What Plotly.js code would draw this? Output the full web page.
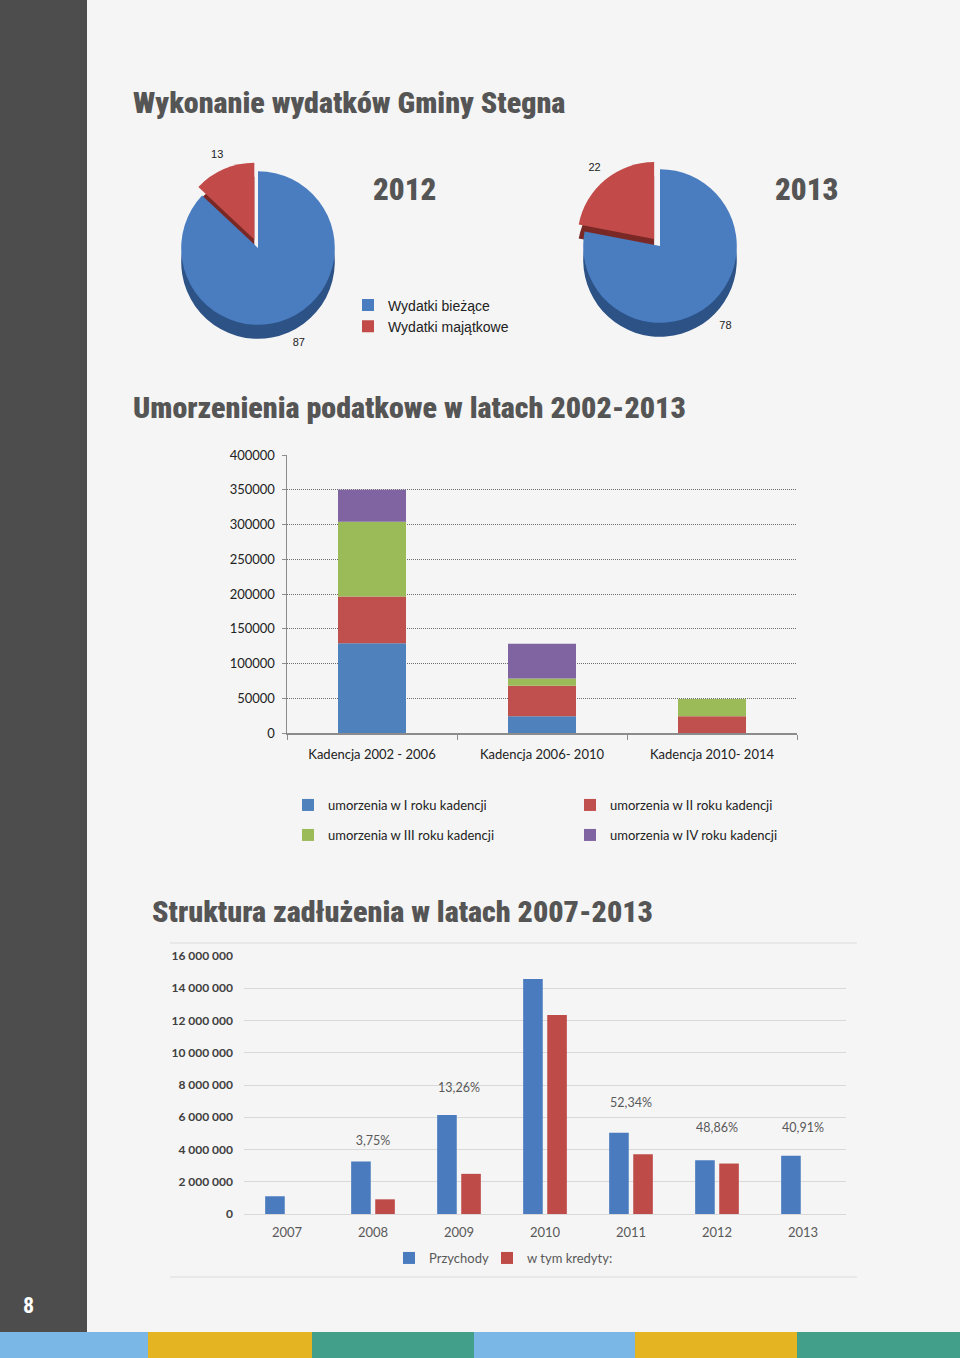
<!DOCTYPE html>
<html><head><meta charset="utf-8">
<script src="https://cdn.plot.ly/plotly-3.0.1.min.js"></script>
<style>html,body{margin:0;padding:0;background:#f5f5f5}#chart{width:960px;height:1358px}</style>
</head><body><div id="chart"></div>
<script>
// ---------- data ----------
const pieLabels = ['Wydatki bieżące', 'Wydatki majątkowe'];
const pie2012 = [87, 13];
const pie2013 = [78, 22];

const kadencje = ['Kadencja 2002 - 2006', 'Kadencja 2006- 2010', 'Kadencja 2010- 2014'];
const umorzeniaNames = ['umorzenia w I roku kadencji', 'umorzenia w II roku kadencji',
                        'umorzenia w III roku kadencji', 'umorzenia w IV roku kadencji'];
const umorzeniaI   = [129000, 24000, 0];
const umorzeniaII  = [67500, 44000, 24000];
const umorzeniaIII = [107500, 10500, 25000];
const umorzeniaIV  = [46000, 50000, 0];

const lata = ['2007', '2008', '2009', '2010', '2011', '2012', '2013'];
const przychody = [1100000, 3260000, 6140000, 14580000, 5040000, 3340000, 3610000];
const kredyty   = [null, 910000, 2490000, 12340000, 3710000, 3130000, null];
const procentLata = ['2008', '2009', '2010', '2011', '2012', '2013'];
const procenty    = ['3,75%', '13,26%', '46,88%', '52,34%', '48,86%', '40,91%'];
const procentyY   = [4500000, 7780000, 16180000, 6850000, 5290000, 5290000];

// ---------- helpers ----------
const W = 960, H = 1358;
const px = x => x / W;
const py = y => 1 - y / H;
const TITLE_FONT = 'Roboto Condensed, Liberation Sans Narrow, Liberation Sans, sans-serif';
const CAL = 'Lato, Carlito, Open Sans, sans-serif';
const BLUE = '#4f81bd', RED = '#c0504d', GREEN = '#9bbb59', PURPLE = '#8064a2';

function pieDomain(cx, cy, s, dy) {
  return {x: [px(cx - s / 2), px(cx + s / 2)], y: [py(cy + s / 2 + dy), py(cy - s / 2 + dy)]};
}

const traces = [];
// pies: dark copy offset down for depth, top face, and a transparent ring carrying the value labels
[[pie2012, 258, 248, 'legend'], [pie2013, 660, 246, 'legend2']].forEach(([vals, cx, cy, lg]) => {
  const common = {type: 'pie', labels: pieLabels, values: vals, sort: false,
    direction: 'clockwise', rotation: 0, legend: lg};
  traces.push(Object.assign({}, common, {
    pull: [0, 0.12], domain: pieDomain(cx, cy, 172, 14), textinfo: 'none', showlegend: false,
    marker: {colors: ['#2c5286', '#7a2826']}, hoverinfo: 'skip'
  }));
  traces.push(Object.assign({}, common, {
    pull: [0, 0.12], domain: pieDomain(cx, cy, 172, 0), textinfo: 'none',
    marker: {colors: ['#4a7cc0', '#c24b49']}
  }));
  traces.push(Object.assign({}, common, {
    domain: pieDomain(cx, cy, 236, 0), hole: 0.74, textinfo: 'value', textposition: 'inside',
    insidetextorientation: 'horizontal', showlegend: false, hoverinfo: 'skip',
    textfont: {family: 'Liberation Sans, Arial, sans-serif', size: 11, color: '#222'},
    marker: {colors: ['rgba(0,0,0,0)', 'rgba(0,0,0,0)'], line: {width: 0}}
  }));
});

// stacked bars (chart 1) via base
const ser1 = [umorzeniaI, umorzeniaII, umorzeniaIII, umorzeniaIV];
const col1 = [BLUE, RED, GREEN, PURPLE];
let cum = kadencje.map(() => 0);
ser1.forEach((s, i) => {
  traces.push({
    type: 'bar', x: kadencje, y: s, base: cum.slice(), name: umorzeniaNames[i],
    marker: {color: col1[i]}, width: 0.4, xaxis: 'x', yaxis: 'y',
    legend: i < 2 ? 'legend3' : 'legend4'
  });
  cum = cum.map((c, k) => c + s[k]);
});

// grouped bars (chart 2)
traces.push({type: 'bar', x: lata, y: przychody, name: 'Przychody', marker: {color: '#4a7bbf'},
  width: 0.228, offset: -0.254, xaxis: 'x2', yaxis: 'y2', legend: 'legend5'});
traces.push({type: 'bar', x: lata, y: kredyty, name: 'w tym kredyty:', marker: {color: '#be4b48'},
  width: 0.228, offset: 0.026, xaxis: 'x2', yaxis: 'y2', legend: 'legend6'});
traces.push({type: 'scatter', mode: 'text', x: procentLata, y: procentyY, text: procenty,
  textfont: {family: CAL, size: 12.5, color: '#595959'}, cliponaxis: false, showlegend: false,
  hoverinfo: 'skip', xaxis: 'x2', yaxis: 'y2'});

// ---------- layout ----------
const titleFont = {family: TITLE_FONT, size: 30, color: '#555555', weight: 900};
const yearFont = {family: TITLE_FONT, size: 31, color: '#555555', weight: 900};
const strips = [[0, 148, '#7bb7e6'], [148, 312, '#e5b422'], [312, 474, '#42a08a'],
                [474, 635, '#7bb7e6'], [635, 797, '#e5b422'], [797, 960, '#42a08a']];
const shapes = [
  {type: 'rect', xref: 'paper', yref: 'paper', x0: 0, x1: px(87), y0: py(1332), y1: 1,
   fillcolor: '#4d4d4d', line: {width: 0}, layer: 'below'},
  {type: 'line', xref: 'paper', yref: 'paper', x0: px(170), x1: px(857), y0: py(943), y1: py(943),
   line: {color: '#dcdcdc', width: 1}},
  {type: 'line', xref: 'paper', yref: 'paper', x0: px(170), x1: px(857), y0: py(1277), y1: py(1277),
   line: {color: '#dcdcdc', width: 1}}
];
strips.forEach(([a, b, c]) => shapes.push({type: 'rect', xref: 'paper', yref: 'paper',
  x0: px(a), x1: px(b), y0: 0, y1: py(1332), fillcolor: c, line: {width: 0}, layer: 'below'}));

const ann = (text, x, y, font, xanchor) => ({text, x: px(x), y: py(y), xref: 'paper', yref: 'paper',
  showarrow: false, xanchor: xanchor || 'left', yanchor: 'middle', font});

const legFont = {family: 'Liberation Sans, Arial, sans-serif', size: 14, color: '#222'};
const layout = {
  width: W, height: H, margin: {l: 0, r: 0, t: 0, b: 0},
  paper_bgcolor: '#f5f5f5', plot_bgcolor: 'rgba(0,0,0,0)',
  separators: ', ', barmode: 'overlay', showlegend: true,
  font: {family: CAL, color: '#222'},
  shapes,
  annotations: [
    ann('Wykonanie wydatków Gminy Stegna', 131, 103, titleFont),
    ann('Umorzenienia podatkowe w latach 2002-2013', 131, 407, titleFont),
    ann('Struktura zadłużenia w latach 2007-2013', 150, 912, titleFont),
    ann('2012', 404, 190, yearFont, 'center'),
    ann('2013', 806, 190, yearFont, 'center'),
    ann('8', 28, 1305, {family: TITLE_FONT, size: 22, color: '#ffffff', weight: 'bold'}, 'center')
  ],
  legend: {x: px(348), y: py(316), xanchor: 'left', yanchor: 'middle', bgcolor: 'rgba(0,0,0,0)',
    font: legFont, tracegroupgap: 0},
  legend2: {x: px(748), y: py(316), xanchor: 'left', yanchor: 'middle', bgcolor: 'rgba(0,0,0,0)',
    font: legFont, tracegroupgap: 0},
  legend3: {x: px(288), y: py(805), xanchor: 'left', yanchor: 'middle', orientation: 'h',
    entrywidth: 237, entrywidthmode: 'pixels', bgcolor: 'rgba(0,0,0,0)',
    font: {family: CAL, size: 13, color: '#222'}, traceorder: 'normal'},
  legend4: {x: px(288), y: py(835), xanchor: 'left', yanchor: 'middle', orientation: 'h',
    entrywidth: 237, entrywidthmode: 'pixels', bgcolor: 'rgba(0,0,0,0)',
    font: {family: CAL, size: 13, color: '#222'}, traceorder: 'normal'},
  legend5: {x: px(389), y: py(1258), xanchor: 'left', yanchor: 'middle', orientation: 'h',
    bgcolor: 'rgba(0,0,0,0)', font: {family: CAL, size: 13, color: '#595959'}},
  legend6: {x: px(487), y: py(1258), xanchor: 'left', yanchor: 'middle', orientation: 'h',
    bgcolor: 'rgba(0,0,0,0)', font: {family: CAL, size: 13, color: '#595959'}},
  xaxis: {domain: [px(287), px(797)], anchor: 'y', type: 'category', range: [-0.5, 2.5],
    showline: true, linecolor: '#8c8c8c', linewidth: 1.5, ticks: 'outside', tickson: 'boundaries',
    ticklen: 5, tickcolor: '#8c8c8c', showgrid: false, fixedrange: true,
    tickfont: {family: CAL, size: 13, color: '#222'}, ticklabelstandoff: 9},
  yaxis: {domain: [py(733), py(455)], anchor: 'x', range: [0, 400000], dtick: 50000, tickformat: 'd',
    showline: true, linecolor: '#8c8c8c', linewidth: 1.5, ticks: 'outside', ticklen: 4, tickcolor: '#8c8c8c',
    showgrid: true, gridcolor: '#6e6e6e', griddash: '1px,1px', gridwidth: 1, zeroline: false,
    tickfont: {family: CAL, size: 13, color: '#222'}, ticklabelstandoff: 4, fixedrange: true},
  xaxis2: {domain: [px(244), px(846)], anchor: 'y2', type: 'category', range: [-0.5, 6.5],
    showline: false, ticks: '', showgrid: false, fixedrange: true,
    tickfont: {family: CAL, size: 13, color: '#595959'}, ticklabelstandoff: 9},
  yaxis2: {domain: [py(1214), py(956)], anchor: 'x2', range: [0, 16000000], dtick: 2000000,
    tickformat: ',d', showline: false, ticks: '', showgrid: true, gridcolor: '#d9d9d9', gridwidth: 1,
    zeroline: true, zerolinecolor: '#d9d9d9', zerolinewidth: 1, fixedrange: true,
    tickfont: {family: CAL, size: 12, color: '#404040', weight: 'bold'}, ticklabelstandoff: 10}
};

Plotly.newPlot('chart', traces, layout, {staticPlot: true, displayModeBar: false});
</script>
</body></html>
